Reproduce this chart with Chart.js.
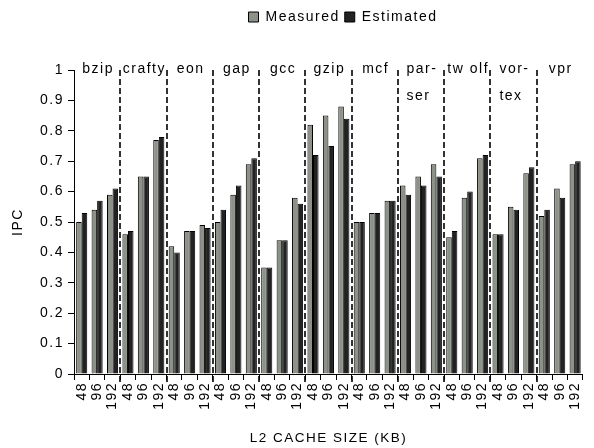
<!DOCTYPE html>
<html>
<head>
<meta charset="utf-8">
<script src="https://cdn.jsdelivr.net/npm/chart.js@4"></script>
<style>
html,body{margin:0;padding:0;background:#fff}
#wrap{width:594px;height:448px}
</style>
</head>
<body>
<div id="wrap"><canvas id="grafico"></canvas></div>
<script>

let grupos = ["bzip","crafty","eon","gap","gcc","gzip","mcf","par-\nser","tw olf","vor-\ntex","vpr"]
let tamanhos = ["48","96","192"]

let medido = [
0.50,0.54,0.59,
0.46,0.65,0.77,
0.42,0.47,0.49,
0.50,0.59,0.69,
0.35,0.44,0.58,
0.82,0.85,0.88,
0.50,0.53,0.57,
0.62,0.65,0.69,
0.45,0.58,0.71,
0.46,0.55,0.66,
0.52,0.61,0.69
]

let estimado = [
0.53,0.57,0.61,
0.47,0.65,0.78,
0.40,0.47,0.48,
0.54,0.62,0.71,
0.35,0.44,0.56,
0.72,0.75,0.84,
0.50,0.53,0.57,
0.59,0.62,0.65,
0.47,0.60,0.72,
0.46,0.54,0.68,
0.54,0.58,0.70
]

let yTicks = [0,0.1,0.2,0.3,0.4,0.5,0.6,0.7,0.8,0.9,1]

let labels = []
grupos.forEach(()=>tamanhos.forEach(t=>labels.push(t)))

let fonte = "'Liberation Sans', Arial, sans-serif"
Chart.defaults.font.family = fonte
Chart.defaults.color = "#000"

// texto mais espaçado, como no original
let espacamento = {
id:"espacamento",
beforeLayout(chart){ chart.ctx.letterSpacing = "1.5px" },
beforeDraw(chart){ chart.ctx.letterSpacing = "1.5px" }
}

// divisórias tracejadas e nomes dos benchmarks
let divisorias = {
id:"divisorias",
afterDatasetsDraw(chart){
let c = chart.ctx
let x = chart.scales.x
let a = chart.chartArea
c.save()
c.strokeStyle = "#000"
c.lineWidth = 1.6
c.setLineDash([6,3])
for(let g=0; g<grupos.length-1; g++){
let i = g*tamanhos.length + tamanhos.length-1
let px = Math.round((x.getPixelForValue(i)+x.getPixelForValue(i+1))/2)
c.beginPath()
c.moveTo(px,a.top)
c.lineTo(px,a.bottom+9)
c.stroke()
}
c.setLineDash([])
c.font = "14px " + fonte
c.fillStyle = "#000"
c.textBaseline = "alphabetic"
c.textAlign = "left"
grupos.forEach((nome,g)=>{
let linhas = nome.split("\n")
let w = Math.max(...linhas.map(l=>c.measureText(l).width))
let ini = x.getPixelForValue(g*3)
let fim = x.getPixelForValue(g*3+2)
let cx = (ini+fim)/2
linhas.forEach((l,k)=>{
c.fillText(l, cx-w/2+1, a.top+3+k*27)
})
})
c.restore()
}
}

let medidas = {
id:"medidas",
beforeInit(chart){
let fit = chart.legend.fit
chart.legend.fit = function(){
fit.bind(this)()
this.height = 65
}
},
afterLayout(chart){
// legenda centrada sobre a área do gráfico
chart.legend.left += 48
chart.legend.right += 48
}
}

let ctx = document.getElementById("grafico").getContext("2d")

let grafico = new Chart(ctx, {
type:"bar",
data:{
labels:labels,
datasets:[{
label:"Measured",
data:medido,
backgroundColor:"#8c9288",
borderColor:"#000",
borderWidth:1
},{
label:"Estimated",
data:estimado,
backgroundColor:"#222",
borderColor:"#000",
borderWidth:1
}]
},
options:{
responsive:true,
maintainAspectRatio:false,
animation:false,
layout:{padding:{top:5,right:4,left:0,bottom:2}},
datasets:{bar:{categoryPercentage:0.72,barPercentage:1.0}},
plugins:{
legend:{
position:"top",
labels:{boxWidth:10,boxHeight:10,padding:5,font:{size:14}}
},
tooltip:{enabled:false}
},
scales:{
x:{
afterFit(s){ s.height = 72 },
grid:{display:true,drawOnChartArea:false,color:"#000",tickLength:6,offset:true},
border:{color:"#000",width:1},
ticks:{minRotation:90,maxRotation:90,autoSkip:false,font:{size:14},padding:2},
title:{display:true,text:"L2 CACHE SIZE (KB)",font:{size:13.5},padding:{top:4,bottom:0}}
},
y:{
min:0,max:1,
afterFit(s){ s.width = 74 },
afterBuildTicks(s){ s.ticks = yTicks.map(v=>({value:v})) },
grid:{display:true,drawOnChartArea:false,color:"#000",tickLength:6},
border:{color:"#000",width:1},
ticks:{font:{size:14},padding:4,callback:v=>String(Math.round(v*10)/10)},
title:{display:true,text:"IPC",font:{size:14},padding:{top:10,bottom:0}}
}
}
},
plugins:[espacamento,divisorias,medidas]
})

</script>
</body>
</html>
